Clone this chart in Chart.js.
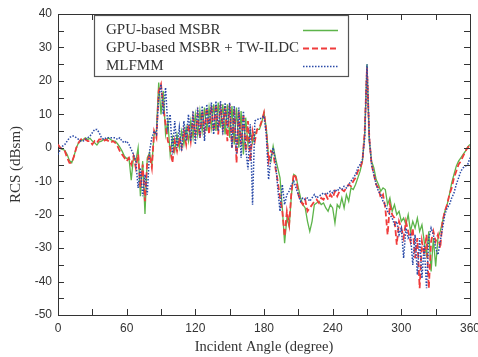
<!DOCTYPE html>
<html>
<head>
<meta charset="utf-8">
<script src="https://cdn.jsdelivr.net/npm/chart.js@4.4.1/dist/chart.umd.min.js"></script>
<style>
  html, body { margin: 0; padding: 0; background: #fff; overflow: hidden; }
  #wrap { width: 478px; height: 357px; position: relative; }
</style>
</head>
<body>
<div id="wrap"><canvas id="rcs"></canvas></div>
<script>
// incident angle (degree), 2 degree steps
const angles = [
  0, 2, 4, 6, 8, 10, 12, 14, 16, 18,
  20, 22, 24, 26, 28, 30, 32, 34, 36, 38,
  40, 42, 44, 46, 48, 50, 52, 54, 56, 58,
  60, 62, 64, 66, 68, 70, 72, 74, 76, 78,
  80, 82, 84, 86, 88, 90, 92, 94, 96, 98,
  100, 102, 104, 106, 108, 110, 112, 114, 116, 118,
  120, 122, 124, 126, 128, 130, 132, 134, 136, 138,
  140, 142, 144, 146, 148, 150, 152, 154, 156, 158,
  160, 162, 164, 166, 168, 170, 172, 174, 176, 178,
  180, 182, 184, 186, 188, 190, 192, 194, 196, 198,
  200, 202, 204, 206, 208, 210, 212, 214, 216, 218,
  220, 222, 224, 226, 228, 230, 232, 234, 236, 238,
  240, 242, 244, 246, 248, 250, 252, 254, 256, 258,
  260, 262, 264, 266, 268, 270, 272, 274, 276, 278,
  280, 282, 284, 286, 288, 290, 292, 294, 296, 298,
  300, 302, 304, 306, 308, 310, 312, 314, 316, 318,
  320, 322, 324, 326, 328, 330, 332, 334, 336, 338,
  340, 342, 344, 346, 348, 350, 352, 354, 356, 358,
  360
];

// RCS (dBsm)
const msbr = [
  0.8, 0, -0.5, -0.8, -2, -3.8, -4.5, -2.5, 0, 1.5,
  2, 2.5, 3, 2.5, 2.8, 2, 1.5, 0.8, 1.8, 2,
  2.5, 2.2, 3, 2.5, 2, 2, 1.2, 0.2, -1, -2.5,
  -3.2, -3, -9.7, -2.5, -4, 0, -14.5, -4, -19.8, -3,
  -1.5, -5, 4, 5, 19.5, 10, 17, 4, 8, -2,
  3, -1, 4, 0, 5, 1, 6, 2, 8, 3,
  10, 4, 11, 5, 12, 5, 12, 6, 13, 5,
  13.5, 6, 13, 4, 13, 3, 12.5, 1, 12, 0,
  11, -2, 9, 1, 5, 1.5, 4, 5.5, 5.5, 7.5,
  10.5, 6, -3, -4, 0.5, -3, -6, -9, -18, -28.5,
  -21, -23.5, -14, -8, -8.5, -12, -15, -17, -18, -22,
  -25, -22, -17, -16.5, -16, -17, -16.5, -18, -19, -17,
  -18, -22.5, -17, -18, -15, -18, -14, -16, -12, -12.5,
  -11, -9, -7, -4, 4, 25, 2, -4, -6, -9.5,
  -11, -13, -12, -12.5, -17, -15, -19, -17, -20, -19,
  -22, -21, -23, -20, -25, -22, -24, -21, -25, -23,
  -28, -32, -25, -37, -27, -35.5, -27, -25, -22, -19,
  -17, -14, -10.5, -8, -5.5, -4, -3, -2, -1, 0.3,
  1
];

const msbrIldc = [
  1, 0, -0.5, -1, -3, -4.5, -4.5, -2.5, 0, 1.5,
  2.5, 3, 2.5, 2, 2, 1, 2, 1.5, 2.5, 2.5,
  2, 2.5, 2, 1.5, 2, 1.5, 0.5, -1, -2, -3,
  -4, -3, -5, -2.5, -6, -2, -12, -5, -16, -4,
  -2, -6, 5, 3, 17, 19, 12, 7, 2, 0,
  -4.5, 2, -1, 3, 0, 5, 1, 7, 2, 9,
  4, 10, 3, 11, 5, 12, 4, 12.5, 5, 13,
  4, 13, 6, 12.5, 2, 13, 0, 12, -4.5, 11,
  1, 10, -1, 8, -4, 5, 2, 5.5, 6, 8,
  10.5, 5, -4, -1, -1.5, -6, -10, -15, -19, -26.5,
  -19, -23, -13, -7.8, -9, -14, -16, -17, -15.5, -19,
  -18, -17, -16, -15.5, -16.5, -15, -15.5, -14, -15.5, -14,
  -15, -13, -14.5, -13, -12.5, -13, -12, -11, -11.5, -10,
  -9, -7, -6, -4, 5, 24, 3, -5, -8, -11,
  -12, -15, -14, -18, -26, -17, -20, -21, -29, -22,
  -24, -27, -22, -25, -28, -24, -33, -27, -42, -28,
  -32, -26, -42, -28, -25, -28, -26, -30, -22, -19,
  -17, -14, -12, -9, -7, -5, -4, -2.5, -1, 0,
  1
];

const mlfmm = [
  -2, -0.5, 0.5, 1, 2, 3, 3.5, 3.5, 3, 2.5,
  2, 2, 2.5, 3, 3.5, 4.5, 5.5, 5.5, 4.5, 3,
  2.5, 3, 3, 3, 3, 3, 2.5, 3, 2, 1.5,
  2, 1, -0.5, -2, -4, -12, -6, -14.5, -8, -14,
  -1, 3, 5, 4, 15, 19, 10, 18, 6, 10,
  -2, 8, 0, 6, -1, 8, 2, 10, 2, 11,
  1, 12, 3, 12.5, 2, 13, 6, 13.5, 4, 14,
  5, 14, 4, 13.5, 6, 13.5, 0, 12.5, -2, 12,
  -3, 11, 0, -6.5, 7, -17, 8, 8.5, 8.5, 9,
  9.5, 4, -9.5, -3, 0, -4, -12, -19, -11, -17,
  -14, -13, -11, -10, -12, -14, -16, -15, -15.5, -15,
  -16, -15, -14, -15, -14.5, -14, -13.5, -14, -13.5, -13,
  -13.5, -12.5, -13, -12, -12.5, -11.5, -12, -11, -10, -9,
  -8, -6, -5, -3.5, 3, 25, 3, -5, -8, -11,
  -13, -14, -16, -17, -19, -20, -21, -23, -22, -26,
  -24, -33, -24, -27, -26, -35, -26, -38, -27, -39,
  -29, -42, -27, -24, -26, -30, -32, -28, -24, -20,
  -18, -17, -15, -13.5, -11, -9, -7, -6, -5.5, -5,
  -3
];

const seriesNames = ['GPU-based MSBR', 'GPU-based MSBR + TW-ILDC', 'MLFMM'];
const xTickMarks = [0, 30, 60, 90, 120, 150, 180, 210, 240, 270, 300, 330, 360];
const yTickMarks = [-50, -45, -40, -35, -30, -25, -20, -15, -10, -5, 0, 5, 10, 15, 20, 25, 30, 35, 40];

const toPoints = (vals) => angles.map((a, i) => ({ x: a, y: vals[i] }));

// outer frame + inward ticks on all four sides
const frame = {
  id: 'frame',
  afterDatasetsDraw(chart) {
    const { ctx, chartArea: a, scales: { x, y } } = chart;
    const len = 6;
    ctx.save();
    ctx.strokeStyle = '#333';
    ctx.lineWidth = 1;
    ctx.beginPath();
    ctx.moveTo(a.left, a.top + 0.5);
    ctx.lineTo(a.right + 0.5, a.top + 0.5);
    ctx.lineTo(a.right + 0.5, a.bottom);
    xTickMarks.forEach((v) => {
      const px = Math.round(x.getPixelForValue(v)) + 0.5;
      ctx.moveTo(px, a.bottom);
      ctx.lineTo(px, a.bottom - len);
      ctx.moveTo(px, a.top);
      ctx.lineTo(px, a.top + len);
    });
    yTickMarks.forEach((v) => {
      const py = Math.round(y.getPixelForValue(v)) + 0.5;
      ctx.moveTo(a.left, py);
      ctx.lineTo(a.left + len, py);
      ctx.moveTo(a.right, py);
      ctx.lineTo(a.right - len, py);
    });
    ctx.stroke();
    ctx.restore();
  }
};

// boxed legend in the upper left, samples on the right
const boxLegend = {
  id: 'boxLegend',
  afterDraw(chart) {
    const { ctx } = chart;
    const box = { l: 94, t: 15, r: 348, b: 76 };
    ctx.save();
    ctx.fillStyle = '#fff';
    ctx.fillRect(box.l, box.t, box.r - box.l, box.b - box.t);
    ctx.strokeStyle = '#555';
    ctx.lineWidth = 1.2;
    ctx.strokeRect(box.l + 0.5, box.t + 0.5, box.r - box.l, box.b - box.t);
    ctx.font = '15px "Liberation Serif", "Times New Roman", serif';
    ctx.textBaseline = 'middle';
    ctx.fillStyle = '#333';
    chart.data.datasets.forEach((ds, i) => {
      const ty = 30.5 + i * 18;
      ctx.fillText(ds.label, 106, ty);
      ctx.beginPath();
      ctx.strokeStyle = ds.borderColor;
      ctx.lineWidth = ds.borderWidth;
      ctx.setLineDash(ds.borderDash || []);
      ctx.moveTo(303, ty);
      ctx.lineTo(338, ty);
      ctx.stroke();
    });
    ctx.restore();
  }
};

new Chart(document.getElementById('rcs'), {
  type: 'line',
  data: {
    datasets: [
      {
        label: seriesNames[0],
        data: toPoints(msbr),
        borderColor: '#5db44a',
        borderWidth: 1.3,
        order: 2
      },
      {
        label: seriesNames[1],
        data: toPoints(msbrIldc),
        borderColor: '#f03c3c',
        borderWidth: 1.8,
        borderDash: [6, 3],
        order: 1
      },
      {
        label: seriesNames[2],
        data: toPoints(mlfmm),
        borderColor: '#2a4aa8',
        borderWidth: 1.5,
        borderDash: [1.5, 1.5],
        order: 0
      }
    ]
  },
  options: {
    responsive: true,
    maintainAspectRatio: false,
    animation: false,
    layout: { padding: { left: 0, right: 8, top: 14, bottom: 0 } },
    elements: {
      point: { radius: 0 },
      line: { tension: 0, fill: false }
    },
    plugins: {
      legend: { display: false },
      tooltip: { enabled: false }
    },
    scales: {
      x: {
        type: 'linear',
        min: 0,
        max: 360,
        grid: { display: false, drawTicks: false },
        border: { display: true, color: '#333', width: 1 },
        ticks: {
          stepSize: 60,
          padding: 6,
          color: '#333',
          font: { family: '"Liberation Sans", Arial, sans-serif', size: 12 }
        },
        title: {
          display: true,
          text: 'Incident Angle (degree)',
          color: '#333',
          padding: { top: 0, bottom: 1 },
          font: { family: '"Liberation Serif", "Times New Roman", serif', size: 14.5 }
        },
        afterFit(scale) {
          scale.height = 42;
          scale.paddingLeft = 0;
          scale.paddingRight = 0;
        }
      },
      y: {
        min: -50,
        max: 40,
        grid: { display: false, drawTicks: false },
        border: { display: true, color: '#333', width: 1 },
        ticks: {
          stepSize: 10,
          padding: 6,
          color: '#333',
          font: { family: '"Liberation Sans", Arial, sans-serif', size: 12 }
        },
        title: {
          display: true,
          text: 'RCS (dBsm)',
          color: '#333',
          padding: { top: 7, bottom: 0 },
          font: { family: '"Liberation Serif", "Times New Roman", serif', size: 15 }
        },
        afterFit(scale) {
          scale.width = 58;
          scale.paddingTop = 0;
          scale.paddingBottom = 0;
        }
      }
    }
  },
  plugins: [frame, boxLegend]
});
</script>
</body>
</html>
